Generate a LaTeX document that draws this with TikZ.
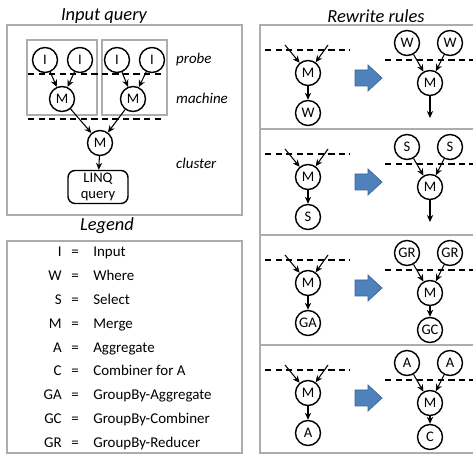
\documentclass[tikz,border=0pt]{standalone}
\usepackage{fontspec}
\setmainfont{Carlito}
\usepackage{tikz}
\usetikzlibrary{arrows.meta, positioning}

\definecolor{ruleblue}{HTML}{4F81BD}
\definecolor{ruleedge}{HTML}{3B6596}

\begin{document}
\begin{tikzpicture}[
  x=0.02cm, y=-0.02cm,
  >={Stealth[length=4pt, width=3.6pt]},
  op/.style={circle, draw, line width=0.8pt, minimum size=0.5cm,
             inner sep=0pt, font=\fontsize{8.3}{9}\selectfont},
  flow/.style={->, line width=0.6pt},
  cut/.style={line width=0.9pt, dash pattern=on 3.6pt off 2.4pt},
  frame/.style={draw=black!32, line width=0.9pt},
  title/.style={font=\fontsize{10.5}{12}\selectfont\itshape},
  level/.style={font=\fontsize{8.5}{10}\selectfont\itshape, anchor=west},
  entry/.style={font=\fontsize{8.5}{9}\selectfont, inner sep=0pt},
  rewrite/.style={fill=ruleblue, draw=ruleedge, line width=0.4pt},
]
\useasboundingbox (0,0) rectangle (473,455);

%% ── Titles ──────────────────────────────────────────────────────────────
\node[title] (tquery) at (104,16) {Input query};
\node[title] (trules) at (376,16) {Rewrite rules};
\node[title] (tlegend) at (107,226) {Legend};

%% ── Frames ──────────────────────────────────────────────────────────────
\draw[frame] (7,25) rectangle (242,215);
\draw[frame] (7,241) rectangle (242,453);
\draw[frame] (473,25) -- (260,25) -- (260,453) -- (473,453);
\draw[frame] (260,129) -- (473,129);
\draw[frame] (260,235) -- (473,235);
\draw[frame] (260,345) -- (473,345);

%% ── Input query : machines ──────────────────────────────────────────────
\draw[frame] (27,40) rectangle (97,115);
\draw[frame] (102,40) rectangle (167,115);

\node[op] (in1) at (45,60) {I};
\node[op] (in2) at (80,60) {I};
\node[op] (in3) at (117,60) {I};
\node[op] (in4) at (152,60) {I};

\node[op] (mrg1) at (62,99) {M};
\node[op] (mrg2) at (133,99) {M};
\node[op] (mrgc) at (100,143) {M};

\node[draw, rounded corners=4pt, line width=0.8pt, align=center,
      minimum width=1.2cm, minimum height=0.66cm, inner sep=1pt,
      font=\fontsize{8.3}{8.8}\selectfont] (linq) at (98,187) {LINQ\\query};

\draw[cut] (28,74) -- (163,74);
\draw[cut] (28,119) -- (163,119);

\draw[flow] (in1) -- (mrg1);
\draw[flow] (in2) -- (mrg1);
\draw[flow] (in3) -- (mrg2);
\draw[flow] (in4) -- (mrg2);
\draw[flow] (mrg1) -- (mrgc);
\draw[flow] (mrg2) -- (mrgc);
\draw[flow] (mrgc) -- (linq);

%% ── Input query : levels ────────────────────────────────────────────────
\node[level] (lprobe) at (170,60) {probe};
\node[level] (lmachine) at (170,98) {machine};
\node[level] (lcluster) at (170,163) {cluster};

%% ── Legend ──────────────────────────────────────────────────────────────
\foreach \k/\d [count=\i from 0] in {I/Input, W/Where, S/Select, M/Merge,
    A/Aggregate, C/Combiner for A, GA/GroupBy-Aggregate,
    GC/GroupBy-Combiner, GR/GroupBy-Reducer} {
  \node[entry, anchor=base east] (key\i) at (62,256.5+23.9*\i) {\k};
  \node[entry, anchor=base] (eq\i) at (75,256.5+23.9*\i) {=};
  \node[entry, anchor=base west] (val\i) at (93,256.5+23.9*\i) {\d};
}

%% ── Rewrite rules : one panel per rule ──────────────────────────────────
\foreach \t/\p/\lo/\up in {25/a/W/W, 129/b/S/S, 235/c/GA/GR, 345/d/A/A} {
  % before
  \coordinate (inl\p) at (285,\t+20);
  \coordinate (inr\p) at (328,\t+20);
  \node[op] (m\p) at (308,\t+48) {M};
  \node[op] (lo\p) at (308,\t+88) {\lo};
  \draw[cut] (265,\t+25) -- (350,\t+25);
  \draw[flow] (inl\p) -- (m\p);
  \draw[flow] (inr\p) -- (m\p);
  \draw[flow] (m\p) -- (lo\p);
  % arrow
  \draw[rewrite] (355,\t+45) -- (368,\t+45) -- (368,\t+40) -- (382,\t+53)
    -- (368,\t+66) -- (368,\t+61) -- (355,\t+61) -- cycle;
  % after
  \node[op] (ul\p) at (407,\t+18) {\up};
  \node[op] (ur\p) at (450,\t+18) {\up};
  \node[op] (mm\p) at (430,\t+58) {M};
  \draw[cut] (385,\t+35) -- (473,\t+35);
  \draw[flow] (ul\p) -- (mm\p);
  \draw[flow] (ur\p) -- (mm\p);
}

%% ── Rewrite rules : outputs ─────────────────────────────────────────────
\coordinate (outa) at (430,118);
\coordinate (outb) at (430,222);
\node[op] (gc) at (430,330) {GC};
\node[op] (cmb) at (430,437) {C};
\draw[flow] (mma) -- (outa);
\draw[flow] (mmb) -- (outb);
\draw[flow] (mmc) -- (gc);
\draw[flow] (mmd) -- (cmb);

\end{tikzpicture}
\end{document}
